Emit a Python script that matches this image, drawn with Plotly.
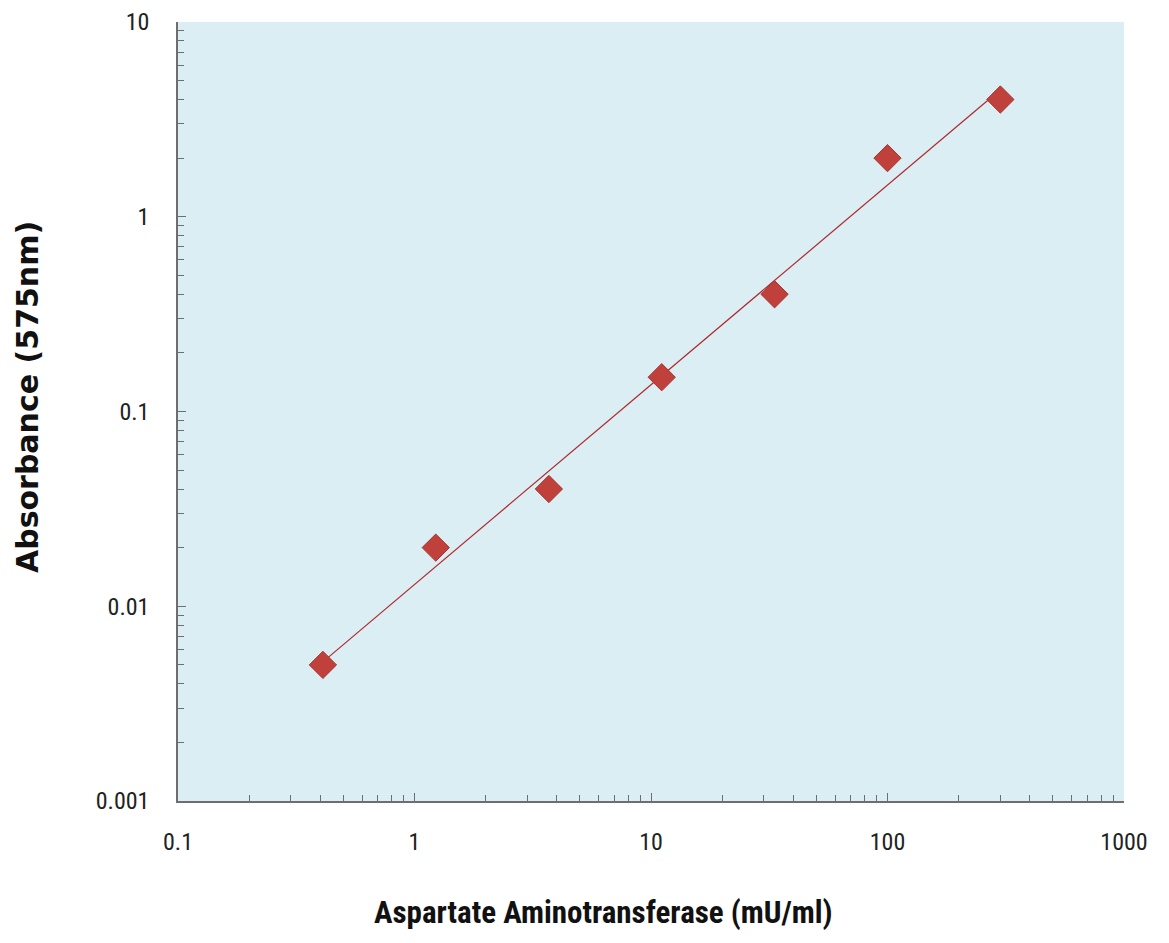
import numpy as np
import plotly.graph_objects as go

# Standard curve: AST activity vs absorbance
ast_activity = [0.41, 1.23, 3.7, 11.1, 33.3, 100, 300]      # mU/ml
absorbance = [0.005, 0.02, 0.04, 0.15, 0.4, 2.0, 4.0]       # A575

x_ticks = [0.1, 1, 10, 100, 1000]
x_tick_labels = ["0.1", "1", "10", "100", "1000"]
y_ticks = [0.001, 0.01, 0.1, 1, 10]
y_tick_labels = ["0.001", "0.01", "0.1", "1", "10"]

# Power-law trendline (linear fit in log-log space)
lx = np.log10(ast_activity)
ly = np.log10(absorbance)
slope, intercept = np.polyfit(lx, ly, 1)
fit_x = np.logspace(lx.min(), lx.max(), 100)
fit_y = 10 ** (intercept + slope * np.log10(fit_x))

fig = go.Figure()
fig.add_trace(go.Scatter(
    x=fit_x, y=fit_y, mode="lines",
    line=dict(color="#B0282E", width=1.2),
    hoverinfo="skip", showlegend=False,
))
fig.add_trace(go.Scatter(
    x=ast_activity, y=absorbance, mode="markers",
    marker=dict(symbol="diamond", size=21, color="#C0403C",
                line=dict(color="#A83430", width=1)),
    showlegend=False,
))

narrow = "'Liberation Sans Narrow', 'Arial Narrow', 'Roboto Condensed', Lato, sans-serif"
tick_font = dict(family=narrow, size=24, color="#222222")

fig.update_layout(
    width=1169, height=943,
    margin=dict(l=178, r=45, t=22, b=142),
    paper_bgcolor="white",
    plot_bgcolor="#DAEEF3",
    xaxis=dict(
        type="log", range=[-1, 3], automargin=False,
        tickvals=x_ticks, ticktext=x_tick_labels,
        showgrid=False, zeroline=False,
        showline=True, linecolor="#6E6E6E", linewidth=1.5,
        ticks="inside", ticklen=8, tickcolor="#6E6E6E", tickwidth=1,
        minor=dict(ticks="inside", ticklen=6, tickcolor="#6E6E6E",
                   dtick="D1", showgrid=False),
        tickfont=tick_font, ticklabelstandoff=18,
    ),
    yaxis=dict(
        type="log", range=[-3, 1], automargin=False,
        tickvals=y_ticks, ticktext=y_tick_labels,
        showgrid=False, zeroline=False,
        showline=True, linecolor="#6E6E6E", linewidth=1.5,
        ticks="inside", ticklen=8, tickcolor="#6E6E6E", tickwidth=1,
        minor=dict(ticks="inside", ticklen=6, tickcolor="#6E6E6E",
                   dtick="D1", showgrid=False),
        tickfont=tick_font, ticklabelstandoff=22,
    ),
    annotations=[
        dict(text="<b>Aspartate Aminotransferase (mU/ml)</b>",
             xref="paper", yref="paper", x=0.45, y=-0.143,
             xanchor="center", yanchor="middle", showarrow=False,
             font=dict(family=narrow, size=31, color="#111111")),
        dict(text="<b>Absorbance (575nm)</b>",
             xref="paper", yref="paper", x=-0.159, y=0.518,
             xanchor="center", yanchor="middle", showarrow=False,
             textangle=-90,
             font=dict(family="'DejaVu Sans', Verdana, sans-serif",
                       size=30, color="#111111")),
    ],
)

fig.write_html("out.html")
